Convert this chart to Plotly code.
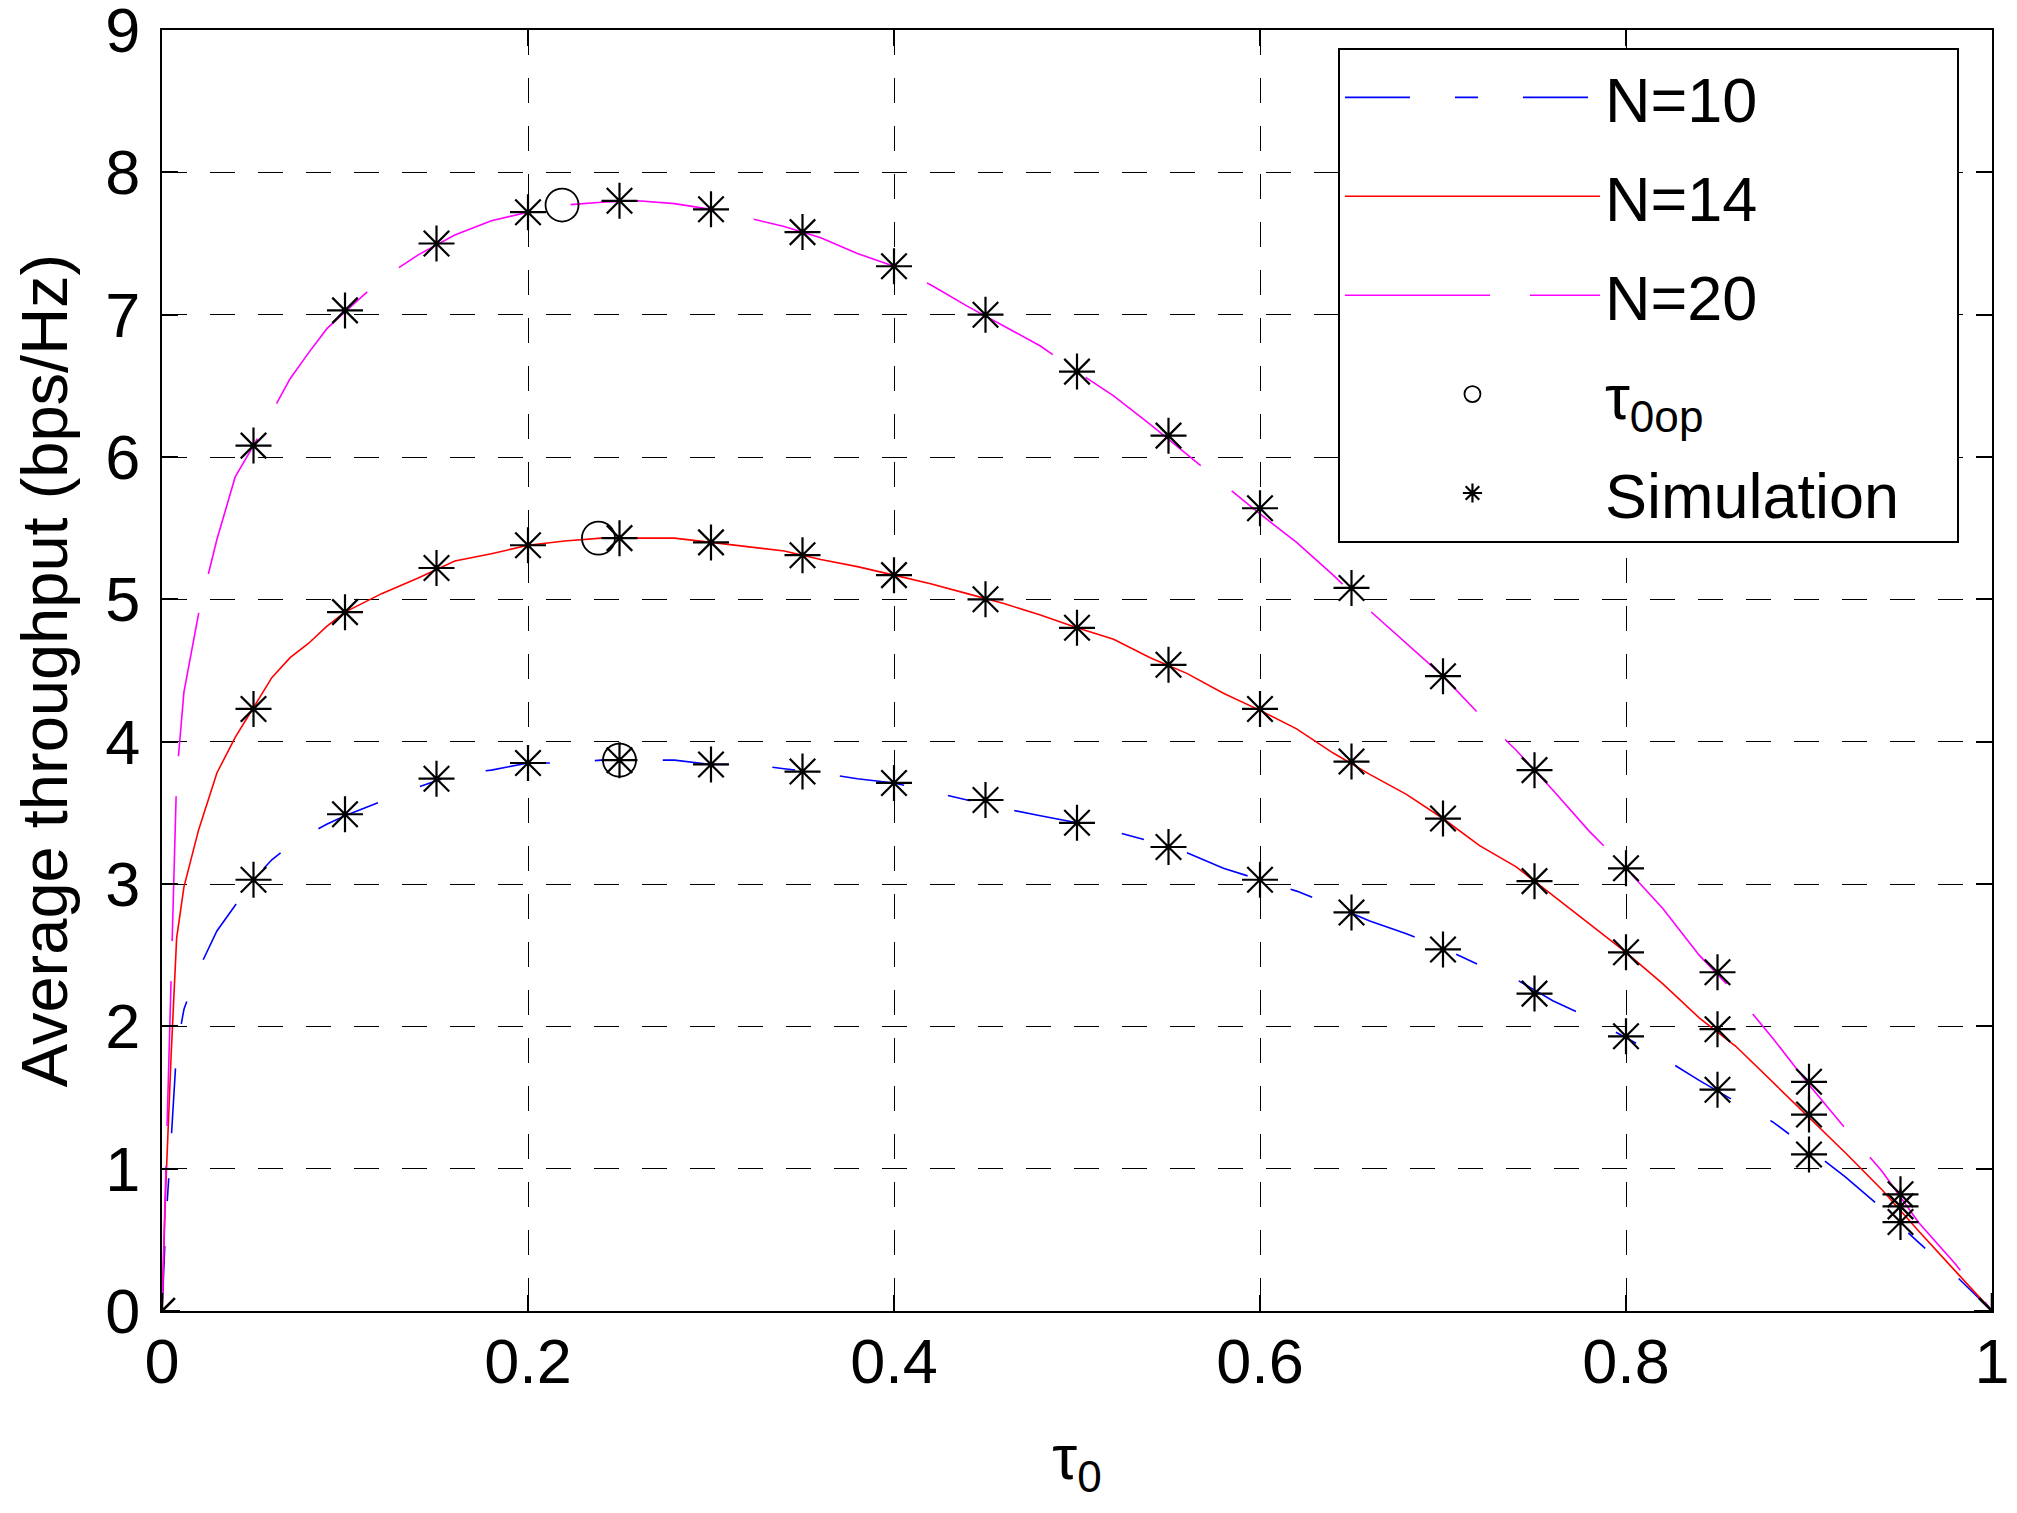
import plotly.graph_objects as go

# ---------------- data ----------------
tau = [0, 0.002, 0.005, 0.008, 0.012, 0.02, 0.03, 0.04, 0.05, 0.06, 0.07, 0.08, 0.09,
       0.1, 0.12, 0.14, 0.16, 0.18, 0.2, 0.22, 0.24, 0.26, 0.28, 0.3, 0.32, 0.34, 0.36,
       0.38, 0.4, 0.42, 0.44, 0.46, 0.48, 0.5, 0.52, 0.54, 0.56, 0.58, 0.6, 0.62, 0.64,
       0.66, 0.68, 0.7, 0.72, 0.74, 0.76, 0.78, 0.8, 0.82, 0.84, 0.86, 0.88, 0.9, 0.92,
       0.94, 0.96, 0.98, 1.0]

thr_n10 = [0, 0.6, 1.2, 1.84, 2.12, 2.4, 2.67, 2.85, 3.03, 3.17, 3.27, 3.35, 3.42,
           3.48, 3.58, 3.68, 3.77, 3.80, 3.85, 3.85, 3.87, 3.87, 3.87, 3.84, 3.84, 3.81, 3.78,
           3.74, 3.71, 3.65, 3.59, 3.53, 3.48, 3.43, 3.37, 3.30, 3.22, 3.11, 3.03, 2.95, 2.85,
           2.74, 2.65, 2.55, 2.43, 2.33, 2.18, 2.06, 1.92, 1.78, 1.62, 1.47, 1.33, 1.14, 0.94,
           0.72, 0.48, 0.25, 0]

thr_n14 = [0, 0.85, 1.8, 2.62, 2.98, 3.38, 3.78, 4.03, 4.24, 4.45, 4.59, 4.69, 4.81,
           4.91, 5.04, 5.15, 5.27, 5.32, 5.38, 5.41, 5.43, 5.43, 5.43, 5.40, 5.37, 5.34, 5.28,
           5.23, 5.17, 5.11, 5.04, 4.97, 4.89, 4.80, 4.72, 4.59, 4.48, 4.34, 4.22, 4.09, 3.92,
           3.77, 3.63, 3.46, 3.27, 3.12, 2.92, 2.72, 2.52, 2.30, 2.06, 1.86, 1.61, 1.36, 1.11,
           0.85, 0.56, 0.28, 0]

thr_n20 = [0, 0.95, 2.36, 3.75, 4.35, 4.9, 5.42, 5.86, 6.08, 6.31, 6.55, 6.73, 6.9,
           7.02, 7.25, 7.42, 7.56, 7.66, 7.72, 7.77, 7.79, 7.80, 7.78, 7.74, 7.68, 7.62, 7.54,
           7.43, 7.34, 7.21, 7.06, 6.92, 6.78, 6.60, 6.43, 6.23, 6.02, 5.81, 5.60, 5.40, 5.17,
           4.92, 4.69, 4.46, 4.19, 3.94, 3.66, 3.37, 3.11, 2.83, 2.50, 2.23, 1.92, 1.59, 1.28,
           0.98, 0.62, 0.33, 0]

tau_sim = [0, 0.05, 0.1, 0.15, 0.2, 0.25, 0.3, 0.35, 0.4, 0.45, 0.5, 0.55, 0.6, 0.65,
           0.7, 0.75, 0.8, 0.85, 0.9, 0.95, 1.0]
sim_n10 = [0, 3.03, 3.49, 3.74, 3.85, 3.87, 3.84, 3.79, 3.71, 3.59, 3.43, 3.26, 3.03, 2.80,
           2.54, 2.23, 1.93, 1.555, 1.10, 0.625, 0]
sim_n14 = [0, 4.23, 4.91, 5.22, 5.38, 5.43, 5.40, 5.31, 5.17, 5.00, 4.80, 4.54, 4.23, 3.86,
           3.46, 3.02, 2.52, 1.98, 1.38, 0.735, 0]
sim_n20 = [0, 6.08, 7.03, 7.50, 7.72, 7.80, 7.74, 7.58, 7.34, 7.00, 6.60, 6.15, 5.64, 5.08,
           4.46, 3.80, 3.11, 2.38, 1.61, 0.82, 0]

tau_opt = [0.25, 0.2385, 0.2186]
thr_opt = [3.87, 5.43, 7.77]

series_names = ["N=10", "N=14", "N=20"]
x_ticks = [0, 0.2, 0.4, 0.6, 0.8, 1]
x_ticklabels = ["0", "0.2", "0.4", "0.6", "0.8", "1"]
y_ticks = [0, 1, 2, 3, 4, 5, 6, 7, 8, 9]

# ---------------- figure ----------------
FONT = "Arial, Liberation Sans, Helvetica, sans-serif"
FS = 63

fig = go.Figure()

fig.add_trace(go.Scatter(x=tau, y=thr_n10, mode="lines", name=series_names[0],
                         line=dict(color="#0000ff", width=1.6, dash="65px,45px,23px,45px"),
                         legendgroup="a"))
fig.add_trace(go.Scatter(x=tau, y=thr_n14, mode="lines", name=series_names[1],
                         line=dict(color="#ff0000", width=1.6), legendgroup="b"))
fig.add_trace(go.Scatter(x=tau, y=thr_n20, mode="lines", name=series_names[2],
                         line=dict(color="#ff00ff", width=1.6, dash="145px,40px"),
                         legendgroup="c"))
fig.add_trace(go.Scatter(x=tau_opt, y=thr_opt, mode="markers", name="τ<sub>0op</sub>",
                         marker=dict(symbol="circle-open", size=33, color="black",
                                     line=dict(width=1.8, color="black")),
                         legendgroup="d"))
sim_x = tau_sim + [None] + tau_sim + [None] + tau_sim
sim_y = sim_n10 + [None] + sim_n14 + [None] + sim_n20
fig.add_trace(go.Scatter(x=sim_x, y=sim_y, mode="markers", name="Simulation\u00a0\u00a0\u00a0",
                         marker=dict(symbol="asterisk-open", size=30, color="black",
                                     line=dict(width=2.2, color="black")),
                         legendgroup="e"))

axis_common = dict(
    showline=True, linecolor="black", linewidth=2, mirror="ticks",
    ticks="inside", ticklen=16, tickwidth=1.5, tickcolor="black",
    showgrid=True, gridcolor="black", gridwidth=1.3, griddash="25px,23px",
    zeroline=False, tickfont=dict(family=FONT, size=FS, color="black"),
    ticklabeloverflow="allow",
)

fig.update_xaxes(range=[0, 1], tickvals=x_ticks, ticktext=x_ticklabels,
                 title=dict(text="τ<sub>0</sub>", font=dict(family=FONT, size=FS, color="black"),
                            standoff=40),
                 ticklabelstandoff=-6, **axis_common)
fig.update_yaxes(range=[0, 9], tickvals=y_ticks,
                 title=dict(text="Average throughput (bps/Hz)\u00a0",
                            font=dict(family=FONT, size=65, color="black"), standoff=22),
                 ticklabelstandoff=7, **axis_common)

# the page body adds an 8 px offset, so the figure is 8 px smaller and margins shifted
fig.update_layout(
    width=2009, height=1505,
    margin=dict(l=154, r=25, t=22, b=202, autoexpand=False),
    paper_bgcolor="white", plot_bgcolor="white",
    font=dict(family=FONT, size=FS, color="black"),
    showlegend=True,
    legend=dict(x=0.6426, y=0.986, xanchor="left", yanchor="top",
                bgcolor="white", bordercolor="black", borderwidth=2,
                font=dict(family=FONT, size=FS, color="black"),
                traceorder="grouped", tracegroupgap=14, itemwidth=255,
                itemsizing="trace"),
)

fig.write_html("out.html")
